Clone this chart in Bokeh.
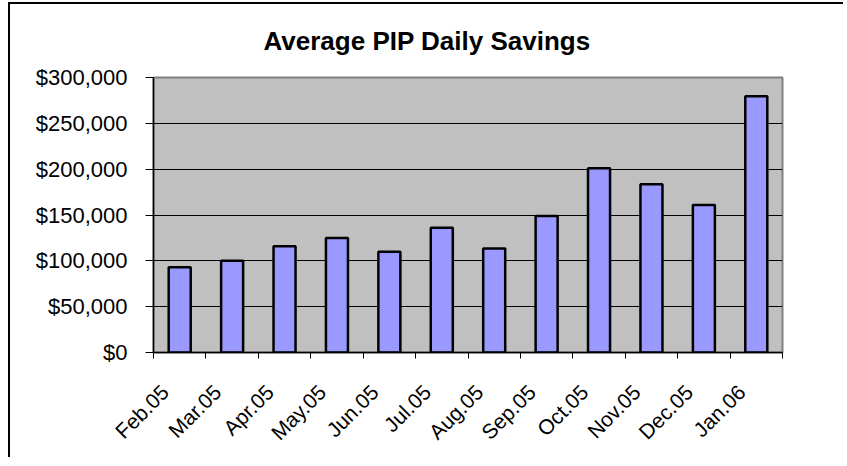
import math
from bokeh.plotting import figure
from bokeh.models import Range1d, FixedTicker, NumeralTickFormatter, ColumnDataSource, Title
from bokeh.embed import file_html
from bokeh.resources import INLINE

# ---- data ----
months = ["Feb.05", "Mar.05", "Apr.05", "May.05", "Jun.05", "Jul.05",
          "Aug.05", "Sep.05", "Oct.05", "Nov.05", "Dec.05", "Jan.06"]
savings = [93000, 100000, 116000, 125000, 110000, 136000,
           113500, 149000, 201000, 183500, 161000, 279500]
y_ticks = [0, 50000, 100000, 150000, 200000, 250000, 300000]
title_text = "Average PIP Daily Savings"

n = len(months)
centers = [i + 0.5 for i in range(n)]
bounds = list(range(n + 1))
# rotated labels sit a little left of the category centre (as in the original)
label_pos = [c - 0.28 for c in centers]

src = ColumnDataSource(dict(x=centers, month=months, savings=savings))

FONT = "Liberation Sans"

p = figure(width=835, height=455, output_backend="svg", toolbar_location=None,
           x_range=Range1d(0, n), y_range=Range1d(y_ticks[0], y_ticks[-1]),
           min_border_left=143, min_border_right=63, min_border_top=0, min_border_bottom=107,
           background_fill_color="#C0C0C0", border_fill_color="white")
# outer chart border (left and top edges, as in the original)
p.styles = {"margin-left": "10px", "margin-top": "4px",
            "box-shadow": "-2px -2px 0 0 #000000"}

p.add_layout(Title(text=title_text, align="left", offset=110, vertical_align="middle",
                   text_font=FONT, text_font_size="26px", text_font_style="bold",
                   text_color="black", standoff=41), "above")

p.outline_line_color = "#808080"
p.outline_line_width = 2

p.vbar(x="x", top="savings", width=0.42, source=src,
       fill_color="#9999FF", line_color="black", line_width=2.5)

# x axis
xa = p.xaxis[0]
xa.ticker = FixedTicker(ticks=label_pos, minor_ticks=bounds)
xa.major_label_overrides = {c: m for c, m in zip(label_pos, months)}
xa.major_tick_out = 0
xa.major_tick_in = 0
xa.minor_tick_out = 6
xa.minor_tick_in = 0
xa.minor_tick_line_color = "black"
xa.axis_line_color = "black"
xa.axis_line_width = 1.5
xa.major_label_orientation = math.pi / 4
xa.major_label_standoff = 30
xa.major_label_text_font = FONT
xa.major_label_text_font_size = "21px"
xa.major_label_text_color = "black"

# y axis
ya = p.yaxis[0]
ya.ticker = FixedTicker(ticks=y_ticks, minor_ticks=[])
ya.formatter = NumeralTickFormatter(format="$0,0")
ya.major_tick_out = 8
ya.major_tick_in = 0
ya.major_tick_line_color = "black"
ya.axis_line_color = "black"
ya.axis_line_width = 1.5
ya.major_label_standoff = 18
ya.major_label_text_font = FONT
ya.major_label_text_font_size = "22px"
ya.major_label_text_color = "black"

p.xgrid.visible = False
p.ygrid.ticker = FixedTicker(ticks=y_ticks)
p.ygrid.grid_line_color = "black"
p.ygrid.grid_line_width = 1

open("out.html", "w").write(file_html(p, INLINE))
